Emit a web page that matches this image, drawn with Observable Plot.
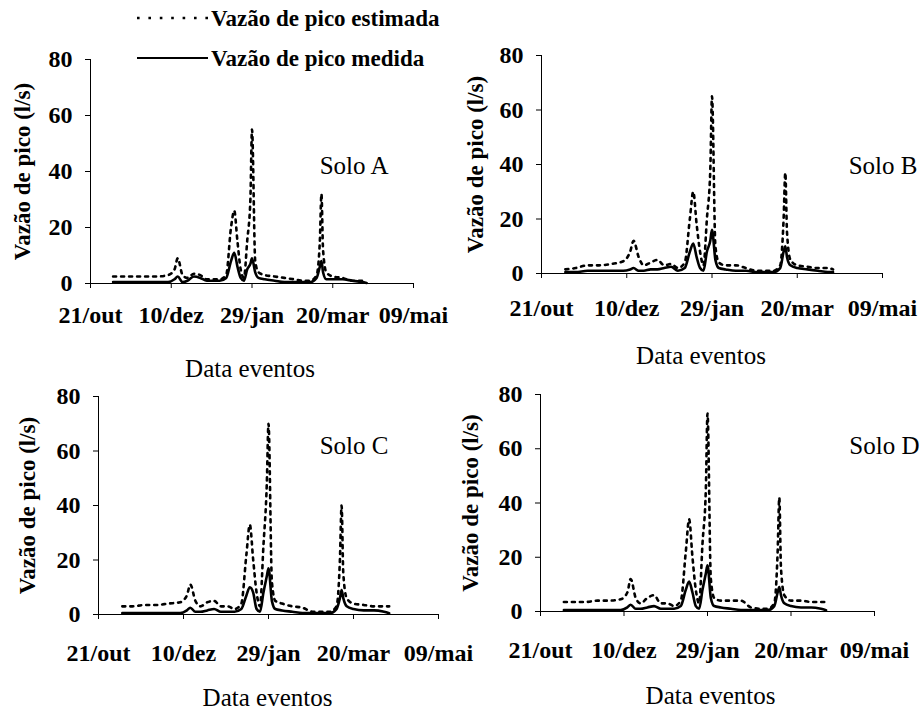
<!DOCTYPE html>
<html>
<head>
<meta charset="utf-8">
<script src="https://cdn.jsdelivr.net/npm/d3@7"></script>
<script src="https://cdn.jsdelivr.net/npm/@observablehq/plot@0.6"></script>
<style>
  html, body { margin: 0; padding: 0; background: white; }
  #root { position: relative; width: 924px; height: 710px; background: white; overflow: hidden; }
  .panel { position: absolute; }
  .panel svg { overflow: visible; }
  #legend { position: absolute; left: 0; top: 0; }
  .panel svg g[aria-label="x-axis tick label"],
  .panel svg g[aria-label="y-axis tick label"],
  #legend text {
    font-family: 'Liberation Serif', serif;
    font-weight: bold;
  }
</style>
</head>
<body>
<div id="root"></div>
<script>
// ---- data ----
const eventDates = [
  "2000-11-04","2000-11-10","2000-11-17","2000-11-24","2000-12-01","2000-12-08","2000-12-12","2000-12-14",
  "2000-12-17","2000-12-20","2000-12-24","2000-12-28","2001-01-01","2001-01-05","2001-01-09","2001-01-13",
  "2001-01-16","2001-01-18","2001-01-20","2001-01-22","2001-01-24","2001-01-26","2001-01-28","2001-01-29",
  "2001-01-31","2001-02-02","2001-02-06","2001-02-12","2001-02-18","2001-02-24","2001-03-02","2001-03-06",
  "2001-03-10","2001-03-12","2001-03-13","2001-03-14","2001-03-16","2001-03-20","2001-03-26","2001-04-01",
  "2001-04-07","2001-04-10"
];
const estA = [2.5,2.5,2.5,2.5,2.5,3,5,9,3,2,3.5,3,1.5,1.5,1.5,3,20,26,15,5,2,15,30,55,8,4,3,2.5,2,1.5,1,1,3,15,32,12,4,2.5,2,1,1,0.5];
const medA = [0.5,0.5,0.5,0.5,0.5,0.5,1.5,2.5,0.5,1,2.5,2,1,1,1,2,8,11,6,2,1,5,7,9,4,2,1.5,1,0.5,0.5,0.5,0.5,2,6,8,4,1.5,1.5,1.5,1,0.5,0.2];
const estB = [1.5,2,3,3,3.5,4.5,8,12,6,3,4,5,3,3.5,2,4,20,30,18,8,3,20,38,65,10,4,3,3,2,1,1,1,3,20,37,15,5,3,2.5,2,2,1.5];
const medB = [0.5,0.5,1,1,1,1,1.5,2,1,1,1.5,1.5,2,2.5,1,2,8,11,6,2,1,8,12,16,5,2,1.5,1,1,0.5,0.5,0.5,2,8,10,6,3,2,1.5,1,0.5,0.5];
const estC = [3,3,3.5,3.5,4,4.5,7,11,5,3,4.5,5,3,3,2,4,22,33,20,8,3,25,48,70,12,5,4,3,2.5,1,1,1,3,20,40,15,6,4,3.5,3,3,3];
const medC = [0.5,0.5,0.5,0.5,0.5,0.5,1.5,2.5,1,1,1.5,2,1,1,1,2,7,10,8,2,1,8,14,17,5,2,1.5,1,0.5,0.5,0.5,0.5,2,6,9,6,3,2,1.5,1.5,1,0.5];
const estD = [3.5,3.5,3.5,4,4,4.5,7,12,5,3,5,6,3,3,2,4,22,34,20,8,3,25,45,73,12,5,4,4,4,1.5,1,1,3,22,42,16,6,4,4,3.5,3.5,3.5];
const medD = [0.5,0.5,0.5,0.5,0.5,0.5,1.5,2.5,1,1,1.5,2,1,1,1,2,8,11,7,2,1,8,14,17,5,2,1.5,1,0.5,0.5,0.5,0.5,2,7,9,6,3,2,1.5,1.5,1,0.5];

const soloNames = ["Solo A", "Solo B", "Solo C", "Solo D"];
const tickDates = ["2000-10-21","2000-12-10","2001-01-29","2001-03-20","2001-05-09"];
const tickLabels = ["21/out","10/dez","29/jan","20/mar","09/mai"];
const yTicks = [0, 20, 40, 60, 80];
const yLabel = "Vazão de pico (l/s)";
const xLabel = "Data eventos";
const seriesNames = ["Vazão de pico estimada", "Vazão de pico medida"];

// ---- layout ----
const panels = [
  {name: soloNames[0], est: estA, med: medA, left: 0,   top: 40,  width: 462, height: 340, mL: 90, mR: 49, mT: 19, mB: 97, tickPad: 17, ylDx: -68, soloDx: -25, soloDy: 106, xlDx: -2, xlDy: 85},
  {name: soloNames[1], est: estB, med: medB, left: 462, top: 30,  width: 462, height: 350, mL: 79, mR: 42, mT: 25, mB: 107, tickPad: 20, ylDx: -66, soloDx: 35, soloDy: 110, xlDx: -11, xlDy: 82},
  {name: soloNames[2], est: estC, med: medC, left: 0,   top: 380, width: 462, height: 330, mL: 98, mR: 24, mT: 16, mB: 96, tickPad: 24, ylDx: -71, soloDx: -50, soloDy: 49, xlDx: -1, xlDy: 83},
  {name: soloNames[3], est: estD, med: medD, left: 462, top: 380, width: 462, height: 330, mL: 78, mR: 50, mT: 14, mB: 99, tickPad: 24, ylDx: -70, soloDx: 45, soloDy: 51, xlDx: 3, xlDy: 84}
];

const parse = s => new Date(s + "T00:00:00Z");
const xDomain = [parse(tickDates[0]), parse(tickDates[tickDates.length - 1])];
const tickLabelByTime = new Map(tickDates.map((d, i) => [+parse(d), tickLabels[i]]));
const FONT = "'Liberation Serif', serif";

const root = document.getElementById("root");

for (const p of panels) {
  const rows = eventDates.map((d, i) => ({date: parse(d), est: p.est[i], med: p.med[i]}));
  const chart = Plot.plot({
    width: p.width,
    height: p.height,
    marginLeft: p.mL,
    marginRight: p.mR,
    marginTop: p.mT,
    marginBottom: p.mB,
    style: {background: "transparent", fontFamily: FONT, color: "black", overflow: "visible"},
    x: {type: "utc", domain: xDomain},
    y: {domain: [0, 80]},
    marks: [
      Plot.ruleX([xDomain[0]], {stroke: "black", strokeWidth: 1}),
      Plot.axisX({ticks: tickDates.map(parse), tickFormat: d => tickLabelByTime.get(+d), tickSize: 5, tickPadding: p.tickPad, fontSize: 24, label: null}),
      Plot.axisY({ticks: yTicks, tickSize: 5, tickPadding: 13, fontSize: 24, label: null}),
      Plot.lineY(rows, {x: "date", y: "est", stroke: "black", strokeWidth: 2.6, strokeDasharray: "3,5", curve: "monotone-x"}),
      Plot.lineY(rows, {x: "date", y: "med", stroke: "black", strokeWidth: 2.6, curve: "monotone-x"}),
      Plot.ruleY([0], {stroke: "black", strokeWidth: 1.2}),
      Plot.text([yLabel], {frameAnchor: "left", rotate: -90, textAnchor: "middle", lineAnchor: "middle", dx: p.ylDx, fontSize: 23, fontWeight: "bold", fontFamily: FONT}),
      Plot.text([p.name], {frameAnchor: "top-right", textAnchor: "end", lineAnchor: "middle", dx: p.soloDx, dy: p.soloDy, fontSize: 25, fontWeight: "normal", fontFamily: FONT}),
      Plot.text([xLabel], {frameAnchor: "bottom", textAnchor: "middle", lineAnchor: "middle", dx: p.xlDx, dy: p.xlDy, fontSize: 25, fontWeight: "normal", fontFamily: FONT})
    ]
  });
  const div = document.createElement("div");
  div.className = "panel";
  div.style.left = p.left + "px";
  div.style.top = p.top + "px";
  div.appendChild(chart);
  root.appendChild(div);
}

// ---- legend ----
const ns = "http://www.w3.org/2000/svg";
const leg = document.createElementNS(ns, "svg");
leg.setAttribute("id", "legend");
leg.setAttribute("width", 462);
leg.setAttribute("height", 75);
const items = [
  {label: seriesNames[0], y: 18, dash: "2.6,8.8"},
  {label: seriesNames[1], y: 58, dash: null}
];
for (const it of items) {
  const line = document.createElementNS(ns, "line");
  line.setAttribute("x1", 137); line.setAttribute("x2", 208);
  line.setAttribute("y1", it.y); line.setAttribute("y2", it.y);
  line.setAttribute("stroke", "black");
  line.setAttribute("stroke-width", it.dash ? 2.6 : 2);
  if (it.dash) line.setAttribute("stroke-dasharray", it.dash);
  leg.appendChild(line);
  const t = document.createElementNS(ns, "text");
  t.setAttribute("x", 211);
  t.setAttribute("y", it.y);
  t.setAttribute("dy", "0.35em");
  t.setAttribute("font-size", 23);
  t.textContent = it.label;
  leg.appendChild(t);
}
root.appendChild(leg);
</script>
</body>
</html>
